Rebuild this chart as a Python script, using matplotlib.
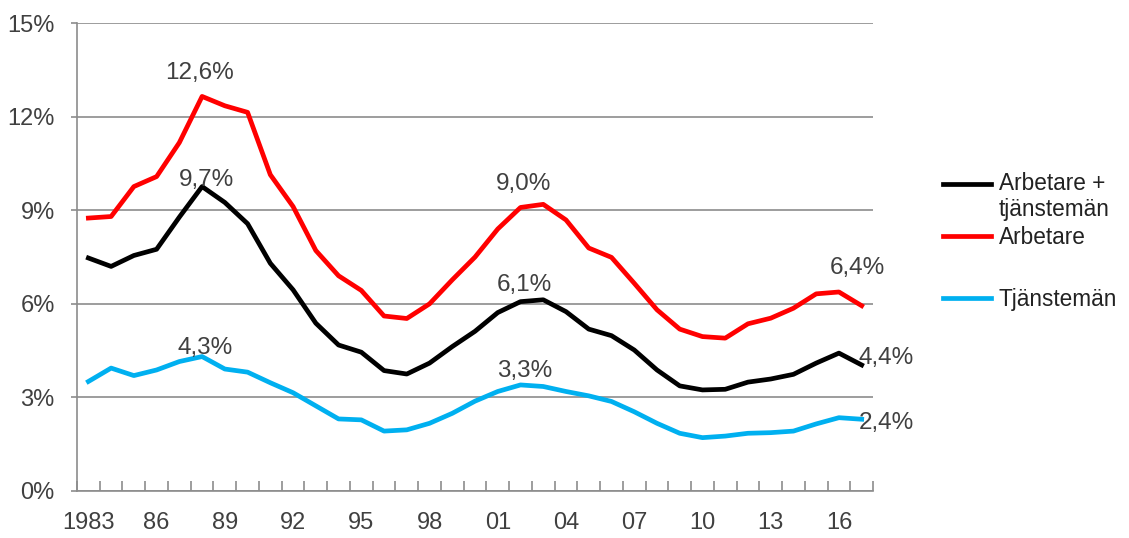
import numpy as np
import matplotlib.pyplot as plt
from matplotlib.ticker import FuncFormatter
from matplotlib.legend_handler import HandlerLine2D

plt.rcParams['font.family'] = ['Liberation Sans', 'DejaVu Sans']

# Data (percent)
years = list(range(1983, 2018))
total = [7.47, 7.20, 7.55, 7.75, 8.78, 9.76, 9.25, 8.57, 7.30, 6.45,
         5.38, 4.68, 4.45, 3.86, 3.75, 4.10, 4.63, 5.12, 5.72, 6.07,
         6.13, 5.75, 5.19, 4.98, 4.52, 3.88, 3.37, 3.24, 3.26, 3.49,
         3.59, 3.74, 4.10, 4.42, 4.04]
arbetare = [8.75, 8.80, 9.76, 10.08, 11.17, 12.65, 12.35, 12.14, 10.14, 9.12,
            7.71, 6.90, 6.43, 5.61, 5.53, 6.00, 6.77, 7.50, 8.40, 9.09,
            9.19, 8.69, 7.79, 7.49, 6.66, 5.81, 5.19, 4.95, 4.90, 5.36,
            5.54, 5.86, 6.32, 6.38, 5.94]
tjm = [3.51, 3.94, 3.70, 3.88, 4.15, 4.31, 3.91, 3.81, 3.47, 3.15,
       2.73, 2.31, 2.28, 1.92, 1.96, 2.17, 2.49, 2.88, 3.19, 3.40,
       3.35, 3.19, 3.05, 2.87, 2.54, 2.17, 1.85, 1.71, 1.76, 1.85,
       1.87, 1.92, 2.15, 2.35, 2.30]
x_labels = ['1983', '86', '89', '92', '95', '98', '01', '04', '07', '10', '13', '16']
y_ticks = [0, 3, 6, 9, 12, 15]

txt = '#404040'
grid = '#8c8c8c'


class TopLineHandler(HandlerLine2D):
    # put the legend line level with the first text line
    def create_artists(self, legend, orig_handle, xdescent, ydescent, width, height,
                       fontsize, trans):
        arts = super().create_artists(legend, orig_handle, xdescent, ydescent, width,
                                      height, fontsize, trans)
        for a in arts:
            a.set_ydata(np.asarray(a.get_ydata()) + 0.58 * fontsize)
        return arts


fig = plt.figure(figsize=(11.29, 5.38), dpi=100)
ax = fig.add_axes([0.0682, 0.0874, 0.7051, 0.8696])

x = np.arange(len(years))
l1, = ax.plot(x, total, color='black', lw=3.4, label='Arbetare +\ntjänstemän')
l2, = ax.plot(x, arbetare, color='#ff0000', lw=3.4, label='Arbetare')
l3, = ax.plot(x, tjm, color='#00b0f0', lw=3.4, label='Tjänstemän')

ax.set_xlim(-0.5, len(years) - 0.5)
ax.set_ylim(0, 15)
ax.set_yticks(y_ticks)
ax.yaxis.set_major_formatter(FuncFormatter(lambda v, p: f'{int(v)}%'))
ax.grid(axis='y', color=grid, lw=1.2)
ax.set_axisbelow(True)

ax.set_xticks(x[::3])
ax.set_xticklabels(x_labels)
ax.set_xticks(np.arange(-0.5, len(years)), minor=True)
ax.tick_params(axis='x', which='major', length=0, pad=15, labelsize=17, labelcolor=txt)
ax.tick_params(axis='x', which='minor', direction='in', length=7, color=grid, width=1.2)
ax.tick_params(axis='y', length=4, color=grid, width=1.2, labelsize=17, labelcolor=txt, pad=12)

for s in ['top', 'right']:
    ax.spines[s].set_visible(False)
for s in ['left', 'bottom']:
    ax.spines[s].set_color(grid)
    ax.spines[s].set_linewidth(1.2)

# value labels
def lab(year, series, text, dx, dy, ha='center', va='bottom'):
    i = years.index(year)
    ax.annotate(text, (x[i], series[i]), xytext=(dx, dy), textcoords='offset points',
                ha=ha, va=va, fontsize=17.5, color=txt, annotation_clip=False)

lab(1988, arbetare, '12,6%', -2, 9)
lab(1988, total, '9,7%', 3, -3)
lab(1988, tjm, '4,3%', 2, -2)
lab(2002, arbetare, '9,0%', 2, 9)
lab(2002, total, '6,1%', 3, 4)
lab(2002, tjm, '3,3%', 3, 2)
lab(2016, arbetare, '6,4%', 13, 9)
lab(2017, total, '4,4%', -2, 5, ha='left', va='center')
lab(2017, tjm, '2,4%', -2, -3, ha='left', va='center')

leg_kw = dict(frameon=False, fontsize=16.3, handlelength=2.1, handletextpad=0.35,
              borderaxespad=0)
leg1 = ax.legend(handles=[l1, l2], loc='center left', bbox_to_anchor=(1.077, 0.60),
                 labelspacing=0.2, handler_map={l1: TopLineHandler()}, **leg_kw)
ax.add_artist(leg1)
leg2 = ax.legend(handles=[l3], loc='center left', bbox_to_anchor=(1.077, 0.41), **leg_kw)
for lg in (leg1, leg2):
    for t in lg.get_texts():
        t.set_color('#222222')

fig.savefig('out.png', dpi=100)
